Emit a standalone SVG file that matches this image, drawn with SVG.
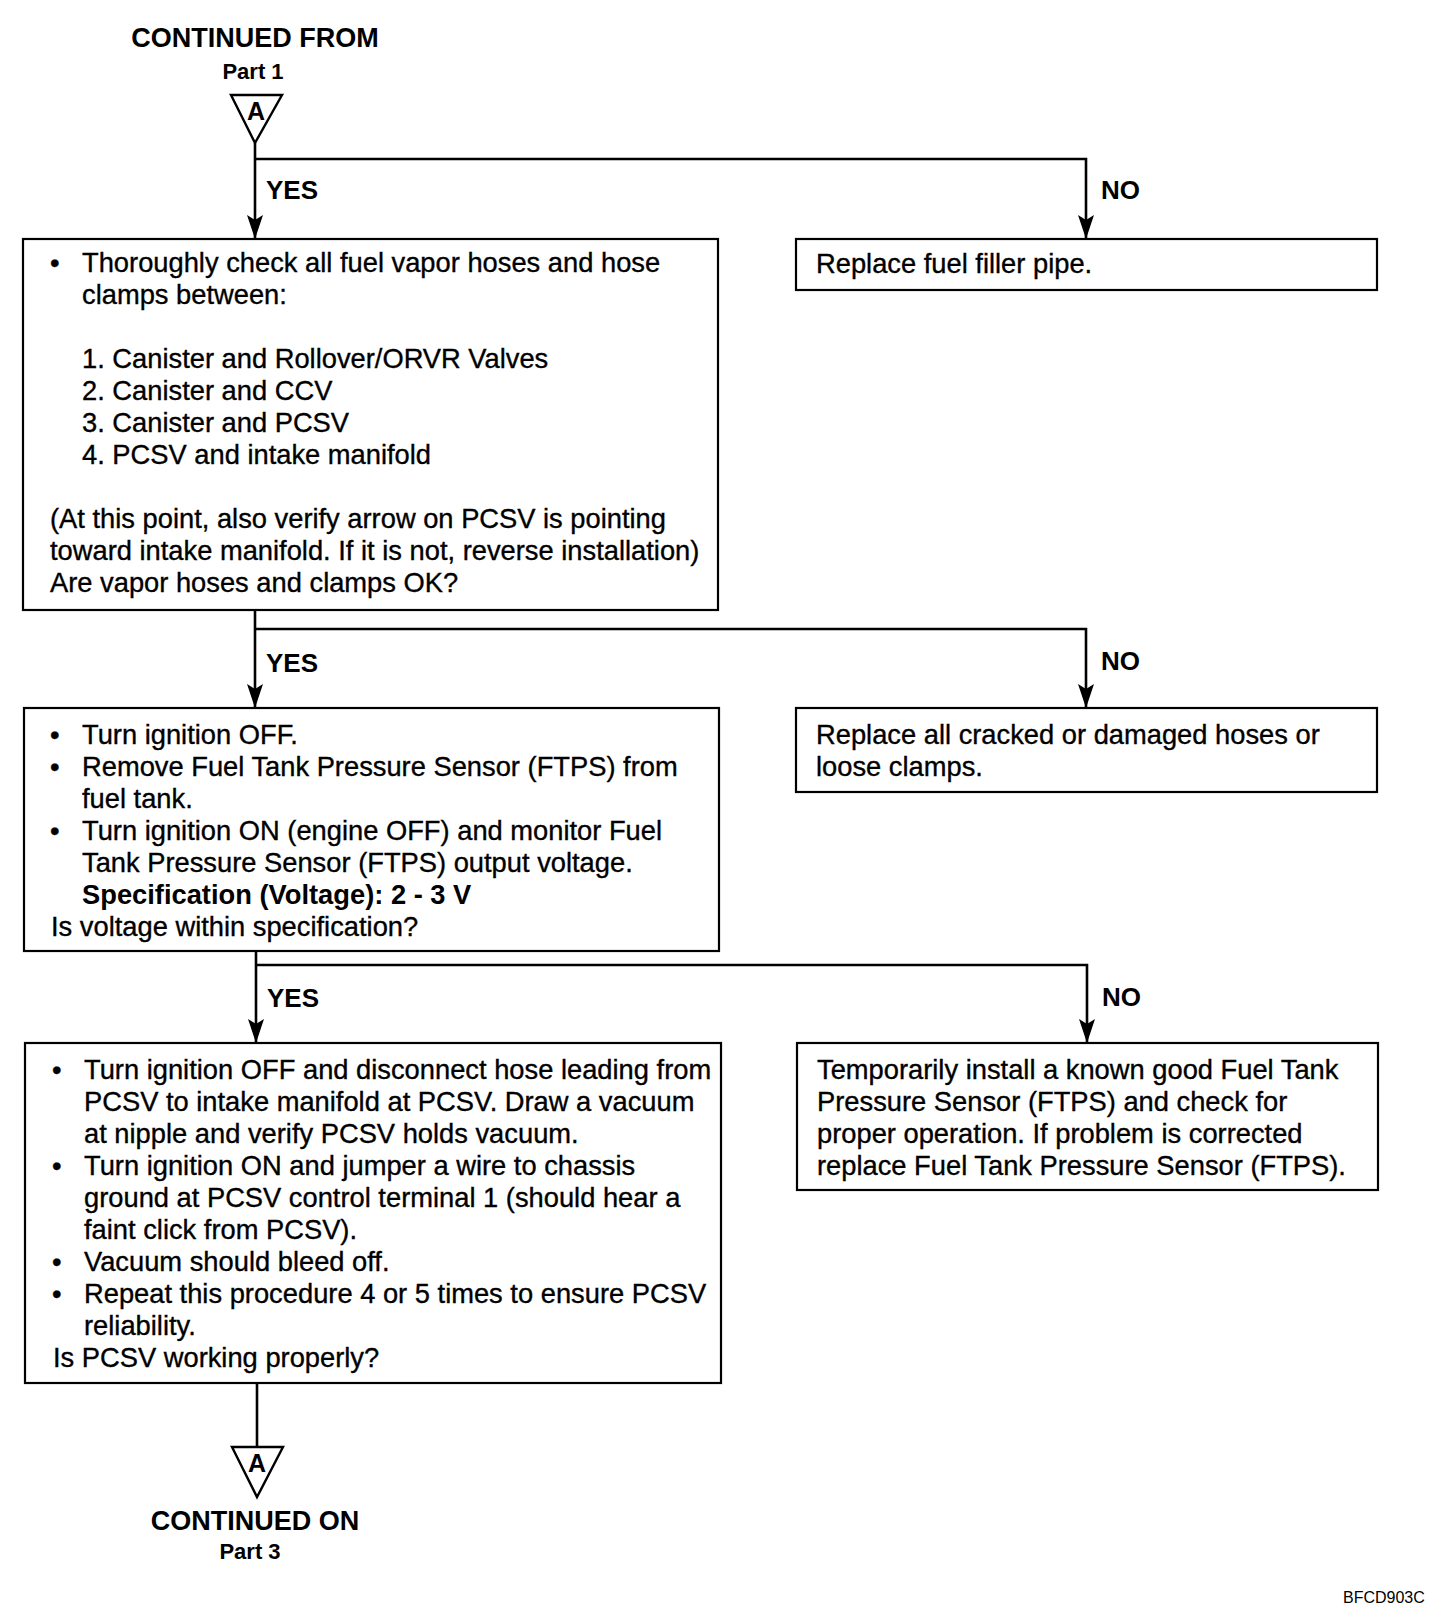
<svg xmlns="http://www.w3.org/2000/svg" width="1456" height="1624" viewBox="0 0 1456 1624">
<style>
  .bg { fill: #ffffff; }
  .box { fill: #ffffff; stroke: #000000; stroke-width: 2.2; }
  .conn { fill: none; stroke: #000000; stroke-width: 2.6; }
  .tri { fill: #ffffff; stroke: #000000; stroke-width: 2.4; stroke-linejoin: miter; }
  text { font-family: "Liberation Sans", Arial, Helvetica, sans-serif; fill: #000000; }
  .t { font-size: 27.3px; stroke: #000000; stroke-width: 0.35; }
  .b { font-size: 27.3px; font-weight: bold; }
  .lbl { font-size: 26px; font-weight: bold; }
  .hdr { font-size: 27px; font-weight: bold; text-anchor: middle; }
  .part { font-size: 22px; font-weight: bold; text-anchor: middle; }
  .a { font-size: 25px; font-weight: bold; text-anchor: middle; }
  .code { font-size: 16px; }
</style>
<defs>
  <marker id="arr" markerUnits="userSpaceOnUse" viewBox="0 0 24 16" markerWidth="24" markerHeight="16" refX="23" refY="8" orient="auto">
    <path d="M0,0 L24,8 L0,16 L5,8 z" fill="#000000"/>
  </marker>
</defs>
<rect class="bg" x="0" y="0" width="1456" height="1624"/>

<g id="start">
  <text class="hdr" x="255" y="47">CONTINUED FROM</text>
  <text class="part" x="253" y="79">Part 1</text>
  <polygon class="tri" points="231,95 282,95 255,143"/>
  <text class="a" x="256" y="120">A</text>
</g>

<g id="connectors">
  <path class="conn" d="M255,143 L255,238" marker-end="url(#arr)"/>
  <path class="conn" d="M255,159 L1086,159 L1086,238" marker-end="url(#arr)"/>
  <path class="conn" d="M255,610 L255,707" marker-end="url(#arr)"/>
  <path class="conn" d="M255,629 L1086,629 L1086,707" marker-end="url(#arr)"/>
  <path class="conn" d="M256,951 L256,1042" marker-end="url(#arr)"/>
  <path class="conn" d="M256,965 L1087,965 L1087,1042" marker-end="url(#arr)"/>
  <path class="conn" d="M257,1383 L257,1447"/>
  <text class="lbl" x="266" y="199">YES</text>
  <text class="lbl" x="1101" y="199">NO</text>
  <text class="lbl" x="266" y="672">YES</text>
  <text class="lbl" x="1101" y="670">NO</text>
  <text class="lbl" x="267" y="1007">YES</text>
  <text class="lbl" x="1102" y="1006">NO</text>
</g>

<g id="box1">
  <rect class="box" x="23" y="239" width="695" height="371"/>
  <text class="t" x="50" y="272">•</text>
  <text class="t" x="82" y="272">Thoroughly check all fuel vapor hoses and hose</text>
  <text class="t" x="82" y="304">clamps between:</text>
  <text class="t" x="82" y="368">1. Canister and Rollover/ORVR Valves</text>
  <text class="t" x="82" y="400">2. Canister and CCV</text>
  <text class="t" x="82" y="432">3. Canister and PCSV</text>
  <text class="t" x="82" y="464">4. PCSV and intake manifold</text>
  <text class="t" x="50" y="528">(At this point, also verify arrow on PCSV is pointing</text>
  <text class="t" x="50" y="560">toward intake manifold. If it is not, reverse installation)</text>
  <text class="t" x="50" y="592">Are vapor hoses and clamps OK?</text>
</g>

<g id="no1">
  <rect class="box" x="796" y="239" width="581" height="51"/>
  <text class="t" x="816" y="273">Replace fuel filler pipe.</text>
</g>

<g id="box2">
  <rect class="box" x="24" y="708" width="695" height="243"/>
  <text class="t" x="50" y="744">•</text>
  <text class="t" x="82" y="744">Turn ignition OFF.</text>
  <text class="t" x="50" y="776">•</text>
  <text class="t" x="82" y="776">Remove Fuel Tank Pressure Sensor (FTPS) from</text>
  <text class="t" x="82" y="808">fuel tank.</text>
  <text class="t" x="50" y="840">•</text>
  <text class="t" x="82" y="840">Turn ignition ON (engine OFF) and monitor Fuel</text>
  <text class="t" x="82" y="872">Tank Pressure Sensor (FTPS) output voltage.</text>
  <text class="b" x="82" y="904">Specification (Voltage): 2 - 3 V</text>
  <text class="t" x="51" y="936">Is voltage within specification?</text>
</g>

<g id="no2">
  <rect class="box" x="796" y="708" width="581" height="84"/>
  <text class="t" x="816" y="744">Replace all cracked or damaged hoses or</text>
  <text class="t" x="816" y="776">loose clamps.</text>
</g>

<g id="box3">
  <rect class="box" x="25" y="1043" width="696" height="340"/>
  <text class="t" x="52" y="1079">•</text>
  <text class="t" x="84" y="1079">Turn ignition OFF and disconnect hose leading from</text>
  <text class="t" x="84" y="1111">PCSV to intake manifold at PCSV. Draw a vacuum</text>
  <text class="t" x="84" y="1143">at nipple and verify PCSV holds vacuum.</text>
  <text class="t" x="52" y="1175">•</text>
  <text class="t" x="84" y="1175">Turn ignition ON and jumper a wire to chassis</text>
  <text class="t" x="84" y="1207">ground at PCSV control terminal 1 (should hear a</text>
  <text class="t" x="84" y="1239">faint click from PCSV).</text>
  <text class="t" x="52" y="1271">•</text>
  <text class="t" x="84" y="1271">Vacuum should bleed off.</text>
  <text class="t" x="52" y="1303">•</text>
  <text class="t" x="84" y="1303">Repeat this procedure 4 or 5 times to ensure PCSV</text>
  <text class="t" x="84" y="1335">reliability.</text>
  <text class="t" x="53" y="1367">Is PCSV working properly?</text>
</g>

<g id="no3">
  <rect class="box" x="797" y="1043" width="581" height="147"/>
  <text class="t" x="817" y="1079">Temporarily install a known good Fuel Tank</text>
  <text class="t" x="817" y="1111">Pressure Sensor (FTPS) and check for</text>
  <text class="t" x="817" y="1143">proper operation. If problem is corrected</text>
  <text class="t" x="817" y="1175">replace Fuel Tank Pressure Sensor (FTPS).</text>
</g>

<g id="end">
  <polygon class="tri" points="232,1447 283,1447 257,1497"/>
  <text class="a" x="257" y="1472">A</text>
  <text class="hdr" x="255" y="1530">CONTINUED ON</text>
  <text class="part" x="250" y="1559">Part 3</text>
</g>

<text class="code" x="1343" y="1603">BFCD903C</text>
</svg>
